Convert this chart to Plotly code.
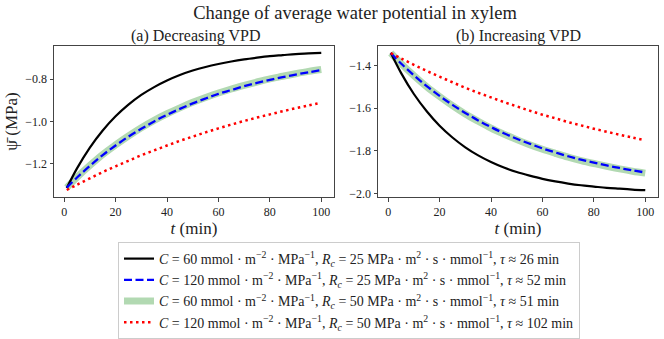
import plotly.graph_objects as go

# ----------------------------------
# DATA
# ----------------------------------

t_min = [1, 5, 10, 15, 20, 25, 30, 35, 40, 45, 50, 55, 60, 65, 70, 75, 80, 85, 90, 95, 100]

# (a) decreasing VPD
dec_c60_r25 = [-1.314, -1.221, -1.123, -1.042, -0.975, -0.920, -0.874, -0.837, -0.806, -0.780, -0.759,
               -0.742, -0.728, -0.716, -0.706, -0.698, -0.691, -0.686, -0.681, -0.678, -0.675]
dec_c120_r25 = [-1.312, -1.264, -1.209, -1.158, -1.113, -1.071, -1.034, -0.999, -0.968, -0.940, -0.914,
                -0.891, -0.869, -0.851, -0.833, -0.817, -0.803, -0.790, -0.778, -0.767, -0.757]
dec_c60_r50 = [-1.312, -1.263, -1.207, -1.155, -1.110, -1.068, -1.029, -0.994, -0.963, -0.935, -0.909,
               -0.886, -0.865, -0.846, -0.829, -0.813, -0.798, -0.786, -0.774, -0.763, -0.754]
dec_c120_r50 = [-1.323, -1.298, -1.268, -1.238, -1.211, -1.185, -1.159, -1.136, -1.113, -1.091, -1.071,
                -1.051, -1.032, -1.014, -0.997, -0.981, -0.966, -0.951, -0.937, -0.924, -0.911]

# (b) increasing VPD
inc_c60_r25 = [-1.341, -1.435, -1.534, -1.615, -1.683, -1.738, -1.784, -1.822, -1.853, -1.879, -1.900,
               -1.917, -1.932, -1.944, -1.954, -1.962, -1.968, -1.974, -1.978, -1.982, -1.985]
inc_c120_r25 = [-1.342, -1.391, -1.446, -1.497, -1.543, -1.585, -1.623, -1.658, -1.689, -1.718, -1.744,
                -1.767, -1.789, -1.808, -1.826, -1.842, -1.856, -1.869, -1.881, -1.892, -1.902]
inc_c60_r50 = [-1.342, -1.391, -1.448, -1.500, -1.546, -1.589, -1.628, -1.662, -1.694, -1.722, -1.748,
               -1.772, -1.793, -1.812, -1.830, -1.846, -1.860, -1.873, -1.885, -1.896, -1.905]
inc_c120_r50 = [-1.342, -1.367, -1.397, -1.426, -1.453, -1.479, -1.505, -1.528, -1.550, -1.572, -1.592,
                -1.612, -1.631, -1.648, -1.666, -1.681, -1.697, -1.711, -1.725, -1.738, -1.751]

legend_names = [
    "<i>C</i> = 60 mmol · m<sup>−2</sup> · MPa<sup>−1</sup>, <i>R<sub>c</sub></i> = 25 MPa · m<sup>2</sup> · s · mmol<sup>−1</sup>, <i>τ</i> ≈ 26 min",
    "<i>C</i> = 120 mmol · m<sup>−2</sup> · MPa<sup>−1</sup>, <i>R<sub>c</sub></i> = 25 MPa · m<sup>2</sup> · s · mmol<sup>−1</sup>, <i>τ</i> ≈ 52 min",
    "<i>C</i> = 60 mmol · m<sup>−2</sup> · MPa<sup>−1</sup>, <i>R<sub>c</sub></i> = 50 MPa · m<sup>2</sup> · s · mmol<sup>−1</sup>, <i>τ</i> ≈ 51 min",
    "<i>C</i> = 120 mmol · m<sup>−2</sup> · MPa<sup>−1</sup>, <i>R<sub>c</sub></i> = 50 MPa · m<sup>2</sup> · s · mmol<sup>−1</sup>, <i>τ</i> ≈ 102 min",
]

x_ticks = [0, 20, 40, 60, 80, 100]
left_y_ticks = [-1.2, -1.0, -0.8]
right_y_ticks = [-2.0, -1.8, -1.6, -1.4]

# ----------------------------------
# STYLES
# ----------------------------------

FONT = "Liberation Serif, DejaVu Serif, serif"
W, H = 664, 339

styles = [
    dict(color="black", width=2.2, dash="solid"),
    dict(color="blue", width=2.3, dash="8px,3.5px"),
    dict(color="rgb(178,217,178)", width=7, dash="solid"),
    dict(color="red", width=2.5, dash="2.5px,3.5px"),
]
# green band sits underneath the blue dashes
draw_order = [2, 0, 1, 3]

fig = go.Figure()

panels = [
    ("x", "y", [dec_c60_r25, dec_c120_r25, dec_c60_r50, dec_c120_r50], True),
    ("x2", "y2", [inc_c60_r25, inc_c120_r25, inc_c60_r50, inc_c120_r50], False),
]

for xa, ya, series, show in panels:
    for i in draw_order:
        fig.add_trace(go.Scatter(
            x=t_min,
            y=series[i],
            mode="lines",
            line=dict(shape="spline", **styles[i]),
            name=legend_names[i],
            legendrank=i + 1,
            showlegend=show,
            xaxis=xa,
            yaxis=ya,
        ))


def px_x(p):
    return p / W


def px_y(p):
    return 1 - p / H


axis_common = dict(
    showline=True,
    mirror=True,
    linecolor="#444",
    linewidth=1,
    ticks="outside",
    ticklen=3.5,
    tickcolor="#444",
    showgrid=False,
    zeroline=False,
    tickfont=dict(family=FONT, size=12, color="#222"),
    automargin=False,
)

fig.update_layout(
    width=W,
    height=H,
    margin=dict(l=0, r=0, t=0, b=0),
    paper_bgcolor="white",
    plot_bgcolor="white",
    font=dict(family=FONT, color="#222"),
    xaxis=dict(
        domain=[px_x(54), px_x(334)],
        range=[-3.95, 104.95],
        tickvals=x_ticks,
        title=dict(text="<i>t</i> (min)", font=dict(family=FONT, size=17), standoff=0),
        anchor="y",
        **axis_common,
    ),
    yaxis=dict(
        domain=[px_y(197), px_y(46)],
        range=[-1.356, -0.643],
        tickvals=left_y_ticks,
        ticktext=["−1.2", "−1.0", "−0.8"],
        title=dict(text="ψ̄ (MPa)", font=dict(family=FONT, size=17), standoff=3),
        anchor="x",
        **axis_common,
    ),
    xaxis2=dict(
        domain=[px_x(378), px_x(658)],
        range=[-3.95, 104.95],
        tickvals=x_ticks,
        title=dict(text="<i>t</i> (min)", font=dict(family=FONT, size=17), standoff=0),
        anchor="y2",
        **axis_common,
    ),
    yaxis2=dict(
        domain=[px_y(197), px_y(46)],
        range=[-2.017, -1.309],
        tickvals=right_y_ticks,
        ticktext=["−2.0", "−1.8", "−1.6", "−1.4"],
        anchor="x2",
        **axis_common,
    ),
    title=dict(
        text="Change of average water potential in xylem",
        x=px_x(355),
        xanchor="center",
        y=px_y(13),
        yanchor="middle",
        font=dict(family=FONT, size=18.5, color="#222"),
    ),
    legend=dict(
        x=px_x(349),
        xanchor="center",
        y=px_y(242),
        yanchor="top",
        bgcolor="white",
        bordercolor="#ccc",
        borderwidth=1,
        font=dict(family=FONT, size=14, color="#222"),
        tracegroupgap=0,
        itemwidth=30,
    ),
    annotations=[
        dict(text="(a) Decreasing VPD", x=px_x(195), y=px_y(36), xref="paper", yref="paper",
             showarrow=False, xanchor="center", yanchor="middle",
             font=dict(family=FONT, size=16, color="#222")),
        dict(text="(b) Increasing VPD", x=px_x(518), y=px_y(36), xref="paper", yref="paper",
             showarrow=False, xanchor="center", yanchor="middle",
             font=dict(family=FONT, size=16, color="#222")),
    ],
)

# the page's default body margin would shift the whole figure by 8px
fig.write_html(
    "out.html",
    config={"displayModeBar": False},
    post_script="document.body.style.margin='0';",
)
